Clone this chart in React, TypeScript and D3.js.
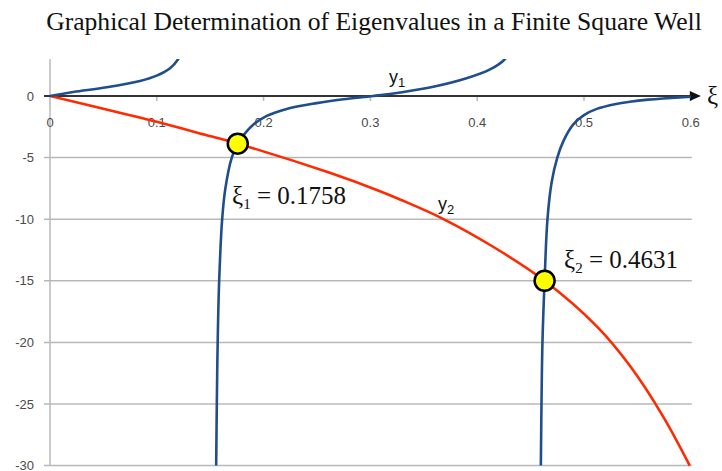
import React from "react";
import * as d3 from "d3";

// Axis ticks
const xTicks = [0, 0.1, 0.2, 0.3, 0.4, 0.5, 0.6];
const yTicks = [0, -5, -10, -15, -20, -25, -30];

// y1 branches (ξ, value)
const y1Branch1: [number, number][] = [
  [0, 0], [0.0218, 0.32], [0.0531, 0.7], [0.0843, 1.22], [0.0999, 1.65],
  [0.1124, 2.25], [0.1201, 3.0], [0.1235, 3.6],
];
const y1Branch2: [number, number][] = [
  [0.1556, -30], [0.1562, -25], [0.157, -20], [0.1584, -15], [0.1612, -10],
  [0.1642, -7.5], [0.1702, -5], [0.1758, -3.87], [0.181, -3.2], [0.19, -2.35],
  [0.203, -1.62], [0.2216, -1.05], [0.2497, -0.58], [0.2746, -0.27], [0.3027, 0],
  [0.3277, 0.28], [0.3589, 0.74], [0.39, 1.43], [0.412, 2.15], [0.426, 3.0],
  [0.43, 3.6],
];
const y1Branch3: [number, number][] = [
  [0.4596, -30], [0.4602, -25], [0.4611, -20], [0.4631, -15], [0.4658, -10],
  [0.4697, -7], [0.475, -5], [0.481, -3.6], [0.49, -2.3], [0.5, -1.55],
  [0.512, -1.05], [0.53, -0.65], [0.543, -0.47], [0.56, -0.3], [0.574, -0.2],
  [0.6, -0.06],
];

// y2 curve (ξ, value)
const y2Curve: [number, number][] = [
  [0, 0], [0.0749, -1.56], [0.1, -2.1], [0.1404, -3.04], [0.1758, -3.87],
  [0.262, -6.24], [0.309, -7.73], [0.3277, -8.4], [0.368, -9.97], [0.418, -12.4],
  [0.4631, -15.0], [0.512, -18.7], [0.543, -21.9], [0.574, -26.0], [0.599, -30.0],
];

// Eigenvalue intersections
const eigenXi = [0.1758, 0.4631];
const eigenY = [-3.87, -15.0];
const eigenLabels = ["0.1758", "0.4631"];

const W = 722;
const H = 471;

export default function App() {
  const x = d3.scaleLinear().domain([0, 0.6]).range([50, 690.8]);
  const y = d3.scaleLinear().domain([-30, 3]).range([465.6, 59]);

  const line = d3
    .line<[number, number]>()
    .x((d) => x(d[0]))
    .y((d) => y(d[1]))
    .curve(d3.curveCatmullRom.alpha(0.5));

  const blue = "#1F4E8A";
  const red = "#FF2A00";
  const grid = "#B8B8B8";
  const tickColor = "#4a4a4a";
  const sans = "'Liberation Sans', Arial, sans-serif";
  const serif = "'Liberation Serif', 'Times New Roman', serif";

  const xAxisY = y(0);
  const [x0, x1] = x.range();
  const [yBottom, yTop] = y.range();

  return (
    <svg
      width={W}
      height={H}
      viewBox={`0 0 ${W} ${H}`}
      style={{ position: "absolute", left: 0, top: 0, background: "#fff" }}
    >
      <defs>
        <clipPath id="plot">
          <rect x={x0} y={yTop} width={x1 - x0 + 2} height={yBottom - yTop + 2} />
        </clipPath>
      </defs>

      {/* Title */}
      <text
        x={374}
        y={30}
        textAnchor="middle"
        fontFamily={serif}
        fontSize={25.6}
        fill="#111"
      >
        Graphical Determination of Eigenvalues in a Finite Square Well
      </text>

      {/* Horizontal gridlines and y ticks */}
      {yTicks
        .filter((t) => t !== 0)
        .map((t) => (
          <line
            key={`g${t}`}
            x1={x0 - 6}
            x2={x1 + 1}
            y1={y(t)}
            y2={y(t)}
            stroke={grid}
            strokeWidth={1.5}
          />
        ))}

      {/* y axis */}
      <line x1={x0} x2={x0} y1={yTop} y2={yBottom} stroke={grid} strokeWidth={1.5} />

      {/* y tick labels */}
      {yTicks.map((t) => (
        <text
          key={`yl${t}`}
          x={34}
          y={y(t)}
          dy="0.35em"
          textAnchor="end"
          fontFamily={sans}
          fontSize={13}
          fill={tickColor}
        >
          {t}
        </text>
      ))}

      {/* x tick marks */}
      {xTicks
        .filter((t) => t !== 0)
        .map((t) => (
          <line
            key={`xt${t}`}
            x1={x(t)}
            x2={x(t)}
            y1={xAxisY}
            y2={xAxisY + 5}
            stroke={grid}
            strokeWidth={1.5}
          />
        ))}

      {/* x tick labels */}
      {xTicks.map((t) => (
        <text
          key={`xl${t}`}
          x={x(t)}
          y={xAxisY + 31}
          textAnchor="middle"
          fontFamily={sans}
          fontSize={13}
          fill={tickColor}
        >
          {t === 0 ? "0" : d3.format(".1f")(t)}
        </text>
      ))}

      {/* x axis with arrow */}
      <line x1={x0 - 6} x2={x1 + 2} y1={xAxisY} y2={xAxisY} stroke="#333" strokeWidth={2} />
      <path
        d={`M${x1 + 10},${xAxisY} L${x1 - 1},${xAxisY - 5} L${x1 - 1},${xAxisY + 5} Z`}
        fill="#111"
      />
      <text x={707} y={xAxisY + 8} fontFamily={serif} fontSize={25} fill="#111">
        ξ
      </text>

      {/* Curves */}
      <g clipPath="url(#plot)" fill="none" strokeLinejoin="round">
        <path d={line(y2Curve) ?? ""} stroke={red} strokeWidth={2.6} />
        <path d={line(y1Branch1) ?? ""} stroke={blue} strokeWidth={2.6} />
        <path d={line(y1Branch2) ?? ""} stroke={blue} strokeWidth={2.6} />
        <path d={line(y1Branch3) ?? ""} stroke={blue} strokeWidth={2.6} />
      </g>

      {/* Curve labels */}
      <text x={389} y={83} fontFamily={sans} fontSize={18} fill="#111">
        y<tspan fontSize={13} dy={4}>1</tspan>
      </text>
      <text x={438} y={210} fontFamily={sans} fontSize={18} fill="#111">
        y<tspan fontSize={13} dy={4}>2</tspan>
      </text>

      {/* Intersection markers */}
      {eigenXi.map((xi, i) => (
        <circle
          key={`m${i}`}
          cx={x(xi)}
          cy={y(eigenY[i])}
          r={10}
          fill="#FFFF00"
          stroke="#000"
          strokeWidth={2.5}
        />
      ))}

      {/* Eigenvalue labels */}
      <text x={232} y={204} fontFamily={serif} fontSize={25} fill="#111">
        ξ<tspan fontSize={15} dy={5}>1</tspan>
        <tspan dy={-5}> = {eigenLabels[0]}</tspan>
      </text>
      <text x={564} y={268} fontFamily={serif} fontSize={25} fill="#111">
        ξ<tspan fontSize={15} dy={5}>2</tspan>
        <tspan dy={-5}> = {eigenLabels[1]}</tspan>
      </text>
    </svg>
  );
}
